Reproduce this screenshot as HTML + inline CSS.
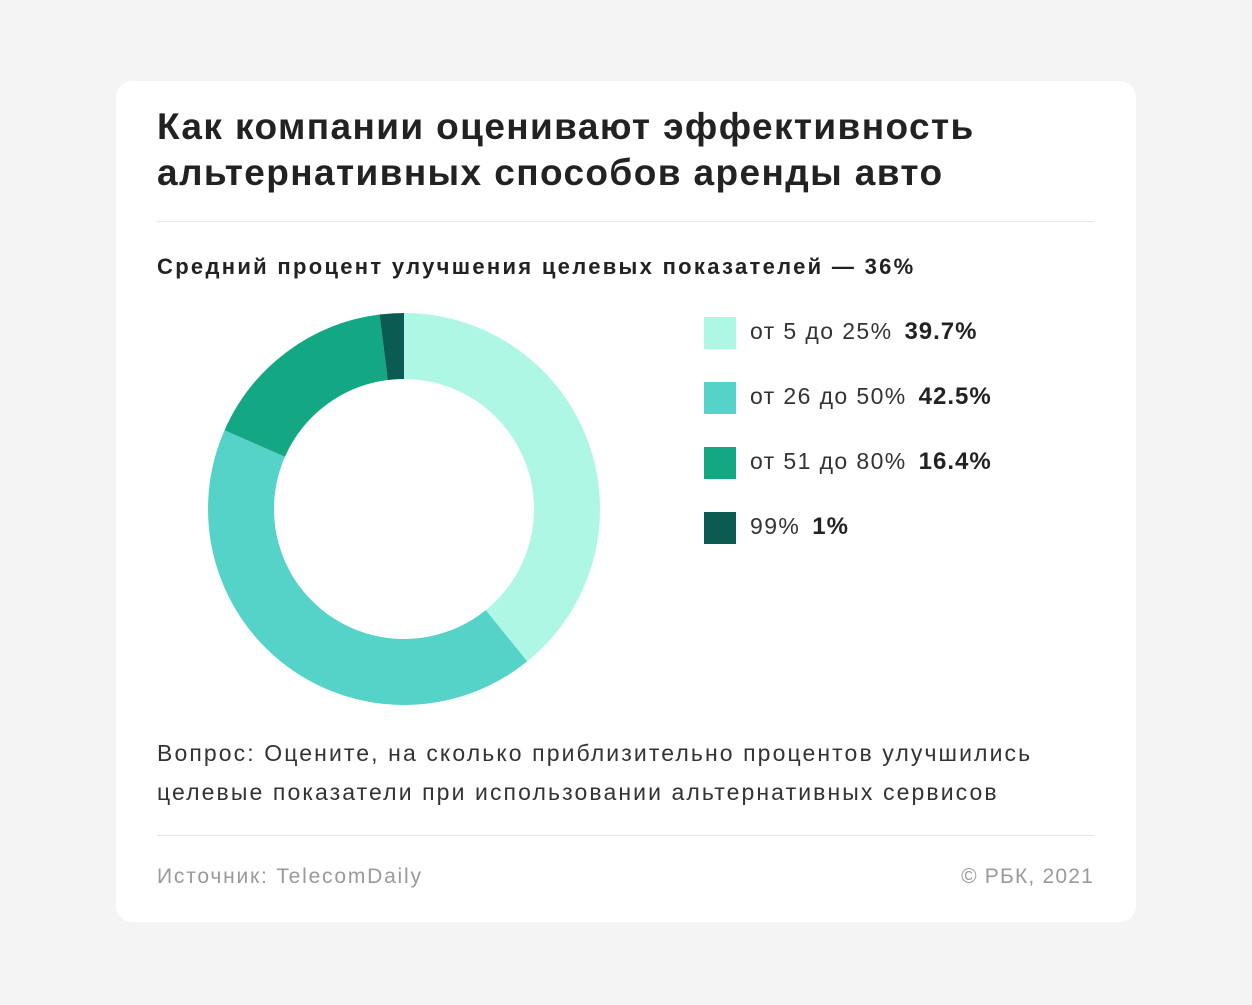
<!DOCTYPE html>
<html><head><meta charset="utf-8"><style>
body{margin:0;width:1252px;height:1005px;background:#f4f4f4;font-family:"Liberation Sans",sans-serif;position:relative;overflow:hidden}
.card{position:absolute;left:116px;top:81px;width:1020px;height:841px;background:#fff;border-radius:16px}
.t{position:absolute;white-space:nowrap}
.sep{position:absolute;left:157px;width:937px;height:1px;background:#e6e6e6}
.sq{position:absolute;left:704px;width:32px;height:32px}
.lg{position:absolute;left:750px;font-size:23px;color:#333;white-space:nowrap;letter-spacing:1.4px}
.lg b{color:#222;margin-left:12px;letter-spacing:1px;font-size:24px}
</style></head><body>
<div class="card"></div>
<div class="t" style="left:157px;top:104px;font-size:37px;letter-spacing:1.4px;font-weight:bold;color:#222;line-height:46px">Как компании оценивают эффективность<br>альтернативных способов аренды авто</div>
<div class="sep" style="top:221px"></div>
<div class="t" style="left:157px;top:254px;font-size:22px;letter-spacing:2.3px;font-weight:bold;color:#222">Средний процент улучшения целевых показателей — 36%</div>
<svg style="position:absolute;left:0;top:0" width="1252" height="1005">
<g transform="rotate(-90 404 509)" fill="none" stroke-width="66">
<circle cx="404" cy="509" r="163" stroke="#aef7e4" stroke-dasharray="401.1 1024.2" stroke-dashoffset="0"/>
<circle cx="404" cy="509" r="163" stroke="#55d3c9" stroke-dasharray="434.1 1024.2" stroke-dashoffset="-401.1"/>
<circle cx="404" cy="509" r="163" stroke="#13a883" stroke-dasharray="168.1 1024.2" stroke-dashoffset="-835.2"/>
<circle cx="404" cy="509" r="163" stroke="#0b5b52" stroke-dasharray="21 1024.2" stroke-dashoffset="-1003.3"/>
</g></svg>
<div class="sq" style="top:317px;background:#aef7e4"></div>
<div class="sq" style="top:382px;background:#55d3c9"></div>
<div class="sq" style="top:447px;background:#13a883"></div>
<div class="sq" style="top:512px;background:#0b5b52"></div>
<div class="lg" style="top:318px">от 5 до 25%<b>39.7%</b></div>
<div class="lg" style="top:383px">от 26 до 50%<b>42.5%</b></div>
<div class="lg" style="top:448px">от 51 до 80%<b>16.4%</b></div>
<div class="lg" style="top:513px">99%<b>1%</b></div>
<div class="t" style="left:157px;top:734px;font-size:23px;letter-spacing:2.1px;color:#333;line-height:39px">Вопрос: Оцените, на сколько приблизительно процентов улучшились<br>целевые показатели при использовании альтернативных сервисов</div>
<div class="sep" style="top:835px"></div>
<div class="t" style="left:157px;top:865px;font-size:21px;letter-spacing:1.8px;color:#9a9a9a">Источник: TelecomDaily</div>
<div class="t" style="right:158px;top:865px;font-size:21px;letter-spacing:1.2px;color:#9a9a9a">© РБК, 2021</div>
</body></html>
